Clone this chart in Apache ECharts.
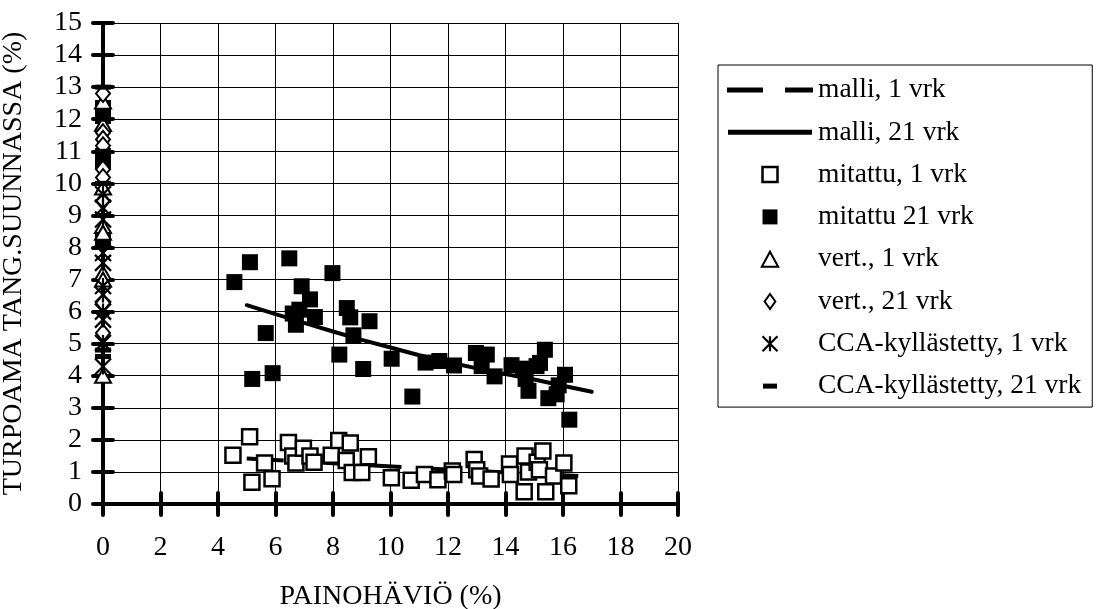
<!DOCTYPE html>
<html><head><meta charset="utf-8">
<script src="https://cdn.jsdelivr.net/npm/echarts@6/dist/echarts.min.js"></script>
<style>html,body{margin:0;padding:0;background:#fff}#c{width:1096px;height:609px}</style>
</head><body><div id="c"></div>
<script>
// ---- data ----
const seriesNames = ['malli, 1 vrk','malli, 21 vrk','mitattu, 1 vrk','mitattu 21 vrk','vert., 1 vrk','vert., 21 vrk','CCA-kyllästetty, 1 vrk','CCA-kyllästetty, 21 vrk'];
const xTitle = 'PAINOHÄVIÖ (%)';
const yTitle = 'TURPOAMA TANG.SUUNNASSA (%)';

const model1X = [5, 8, 11, 14, 17];
const model1Y = [1.42, 1.27, 1.12, 0.98, 0.85];
const model21X = [5, 6, 7, 8, 9, 10, 11, 12, 13, 14, 15, 16, 17];
const model21Y = [6.2, 5.92, 5.65, 5.38, 5.12, 4.88, 4.64, 4.43, 4.23, 4.05, 3.88, 3.69, 3.5];

const meas1X = [4.52,5.1,5.18,5.62,5.88,6.45,6.6,6.71,6.97,7.2,7.34,7.94,8.2,8.46,8.6,8.67,9.0,9.23,10.03,10.72,11.18,11.65,12.15,12.2,12.91,13.0,13.1,13.5,14.14,14.17,14.65,14.68,14.8,15.1,15.18,15.3,15.4,15.67,16.03,16.2];
const meas1Y = [1.52,2.1,0.68,1.28,0.79,1.92,1.5,1.28,1.74,1.5,1.3,1.52,1.98,1.36,1.9,0.98,0.98,1.47,0.82,0.74,0.92,0.76,1.03,0.92,1.39,1.07,0.87,0.78,1.25,0.92,0.38,1.5,1.0,1.3,1.07,1.65,0.38,0.87,1.28,0.57];

const meas21X = [0,0,0,0,0,4.57,5.11,5.19,5.66,5.9,6.48,6.6,6.71,6.83,6.91,7.2,7.37,7.98,8.22,8.48,8.6,8.71,9.05,9.27,10.04,10.76,11.22,11.7,12.21,12.97,13.17,13.35,13.62,14.21,14.6,14.7,14.8,15.08,15.2,15.37,15.49,15.78,15.85,16.07,16.22];
const meas21Y = [12.35,12.1,10.85,10.7,8.25,6.92,7.54,3.9,5.33,4.08,7.66,5.94,5.59,6.06,6.79,6.38,5.83,7.2,4.66,6.11,5.82,5.26,4.21,5.7,4.53,3.35,4.41,4.46,4.32,4.71,4.3,4.66,3.98,4.33,4.22,3.9,3.53,4.3,4.4,4.81,3.3,3.42,3.7,4.03,2.63];

const vert1Y = [12.55, 11.85, 9.87, 8.67, 8.46, 7.2, 7.0, 4.0];
const vert21Y = [12.8, 11.58, 11.37, 11.17, 10.44, 10.18, 9.45, 6.27, 5.33];
const cca1Y = [9.66, 9.24, 8.87, 7.83, 7.52, 6.8, 6.53, 6.0, 5.75, 5.02, 4.29];
const cca21Y = [13.0, 12.0, 11.0, 10.0, 9.0, 8.0, 4.8, 4.6];

// ---- build ----
const zip = (xs, ys) => xs.map((x, i) => [x, ys[i]]);
const atZero = ys => ys.map(y => [0, y]);
const FONT = 'Liberation Serif';
const BLK = '#000';
const ASTER = 'path://M0,0L10,10M10,0L0,10M5,0L5,10';
const DASH = 'path://M0,0H12V4H0Z';
// legend icons (86 x 15 box; the first moves fix the box)
const LG_DASHED = 'path://M0,0M86,15M0,5H36V10H0Z M58,5H86V10H58Z';
const LG_SOLID = 'path://M0,0M86,15M1,5H85V10H1Z';
const LG_SQUARE = 'path://M0,0H10V10H0Z';
const LG_TRI = 'path://M6,0L12,11H0Z';
const LG_DIA = 'path://M5,0L10,7L5,14L0,7Z';
const LG_DASH = 'path://M0,0M86,15M36,5H50V10H36Z';

const styles = {
  open: {color: '#fff', borderColor: BLK, borderWidth: 2.5, opacity: 1},
  filled: {color: BLK, borderColor: BLK, borderWidth: 0, opacity: 1},
  tri: {color: '#fff', borderColor: BLK, borderWidth: 2, opacity: 1},
  dia: {color: '#fff', borderColor: BLK, borderWidth: 2, opacity: 1},
  ast: {color: 'rgba(0,0,0,0)', borderColor: BLK, borderWidth: 2.2, opacity: 1},
  dash: {color: BLK, borderColor: BLK, borderWidth: 0, opacity: 1}
};

const chart = echarts.init(document.getElementById('c'));
const tickStyle = {color: BLK, width: 4, cap: 'round'};
const labelStyle = {fontFamily: FONT, fontSize: 28, color: BLK};

chart.setOption({
  animation: false,
  backgroundColor: '#fff',
  grid: {left: 103, right: 418, top: 23, bottom: 105, containLabel: false, outerBoundsMode: 'none'},
  xAxis: [
    {type: 'value', min: 0, max: 20, interval: 2, position: 'bottom',
     axisLine: {show: true, onZero: false, lineStyle: tickStyle},
     axisTick: {show: true, inside: false, length: 11, lineStyle: tickStyle},
     axisLabel: Object.assign({margin: 30}, labelStyle),
     splitLine: {show: true, lineStyle: {color: BLK, width: 1}},
     name: xTitle, nameLocation: 'middle', nameGap: 79,
     nameTextStyle: {fontFamily: FONT, fontSize: 28, color: BLK}},
    {type: 'value', min: 0, max: 20, interval: 2, position: 'bottom', offset: 0,
     axisLine: {show: false}, axisLabel: {show: false}, splitLine: {show: false},
     axisTick: {show: true, inside: true, length: 11, lineStyle: tickStyle}}
  ],
  yAxis: [
    {type: 'value', min: 0, max: 15, interval: 1, position: 'left',
     axisLine: {show: true, onZero: false, lineStyle: tickStyle},
     axisTick: {show: true, inside: false, length: 10, lineStyle: tickStyle},
     axisLabel: Object.assign({margin: 21}, labelStyle),
     splitLine: {show: true, lineStyle: {color: BLK, width: 1}},
     name: yTitle, nameLocation: 'middle', nameGap: 75, nameRotate: 90,
     nameTextStyle: {fontFamily: FONT, fontSize: 28, color: BLK}},
    {type: 'value', min: 0, max: 15, interval: 1, position: 'left', offset: 0,
     axisLine: {show: false}, axisLabel: {show: false}, splitLine: {show: false},
     axisTick: {show: true, inside: true, length: 10, lineStyle: tickStyle}}
  ],
  legend: {
    orient: 'vertical', left: 718, top: 65, selectedMode: false, symbolKeepAspect: true,
    backgroundColor: '#fff', borderColor: BLK, borderWidth: 1, borderRadius: 0,
    padding: [10, 11, 6, 9], itemWidth: 86, itemHeight: 15, itemGap: 12.3,
    textStyle: {fontFamily: FONT, fontSize: 27.5, color: BLK, lineHeight: 30},
    data: [
      {name: seriesNames[0], icon: LG_DASHED, itemStyle: styles.filled},
      {name: seriesNames[1], icon: LG_SOLID, itemStyle: styles.filled},
      {name: seriesNames[2], icon: LG_SQUARE, itemStyle: styles.open},
      {name: seriesNames[3], icon: LG_SQUARE, itemStyle: styles.filled},
      {name: seriesNames[4], icon: LG_TRI, itemStyle: styles.tri},
      {name: seriesNames[5], icon: LG_DIA, itemStyle: styles.dia},
      {name: seriesNames[6], icon: ASTER, itemStyle: styles.ast},
      {name: seriesNames[7], icon: LG_DASH, itemStyle: styles.dash}
    ]
  },
  series: [
    {name: seriesNames[0], type: 'line', data: zip(model1X, model1Y), symbol: 'none', showSymbol: false,
     lineStyle: {color: BLK, width: 4, type: [37, 22], opacity: 1}, itemStyle: {color: BLK}, z: 2},
    {name: seriesNames[1], type: 'line', data: zip(model21X, model21Y), symbol: 'none', showSymbol: false,
     lineStyle: {color: BLK, width: 4, type: 'solid', cap: 'round', opacity: 1}, itemStyle: {color: BLK}, z: 4},
    {name: seriesNames[2], type: 'scatter', data: zip(meas1X, meas1Y), symbol: 'rect', symbolSize: 15,
     itemStyle: styles.open, z: 3},
    {name: seriesNames[3], type: 'scatter', data: zip(meas21X, meas21Y), symbol: 'rect', symbolSize: 16,
     itemStyle: styles.filled, z: 3},
    {name: seriesNames[4], type: 'scatter', data: atZero(vert1Y), symbol: 'triangle', symbolSize: [16, 14],
     itemStyle: styles.tri, z: 5},
    {name: seriesNames[5], type: 'scatter', data: atZero(vert21Y), symbol: 'diamond', symbolSize: [14, 17],
     itemStyle: styles.dia, z: 5},
    {name: seriesNames[6], type: 'scatter', data: atZero(cca1Y), symbol: ASTER, symbolSize: 16,
     itemStyle: styles.ast, z: 5},
    {name: seriesNames[7], type: 'scatter', data: atZero(cca21Y), symbol: DASH, symbolSize: [16, 5],
     itemStyle: styles.dash, z: 5}
  ]
});
</script>
</body></html>
